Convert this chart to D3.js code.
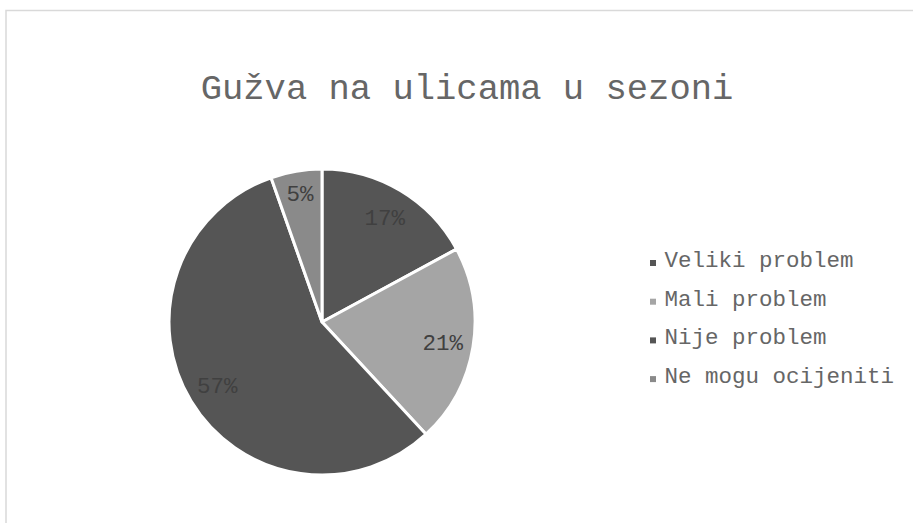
<!DOCTYPE html>
<html>
<head>
<meta charset="utf-8">
<script src="https://cdn.jsdelivr.net/npm/d3@7"></script>
<style>
  html, body { margin: 0; padding: 0; background: #fff; }
  text { font-family: "Liberation Mono", "Courier New", monospace; }
</style>
</head>
<body>
<div id="chart"></div>
<script>
// Data
const TITLE = 'Gužva na ulicama u sezoni';
const categories = ['Veliki problem', 'Mali problem', 'Nije problem', 'Ne mogu ocijeniti'];
const values = [17.1, 21.0, 56.5, 5.4];
const labels = ['17%', '21%', '57%', '5%'];
const colors = ['#555555', '#a5a5a5', '#555555', '#8a8a8a'];

const WIDTH = 913;
const HEIGHT = 523;
const CENTER = { x: 322, y: 322 };
const RADIUS = 153;

const svg = d3.select('#chart').append('svg')
    .attr('width', WIDTH)
    .attr('height', HEIGHT);

svg.append('rect')
    .attr('width', WIDTH).attr('height', HEIGHT)
    .attr('fill', '#fff');

// chart area border (runs off the right and bottom edge)
svg.append('rect')
    .attr('x', 6).attr('y', 10.5)
    .attr('width', 1000).attr('height', 1000)
    .attr('fill', 'none')
    .attr('stroke', '#d9d9d9')
    .attr('stroke-width', 1.5);

// Title
svg.append('text')
    .attr('x', 467)
    .attr('y', 99)
    .attr('text-anchor', 'middle')
    .attr('fill', '#666')
    .style('font-size', '35.5px')
    .text(TITLE);

// Pie
const data = categories.map((c, i) => ({ name: c, value: values[i], label: labels[i], color: colors[i] }));

const pie = d3.pie()
    .sort(null)
    .value(d => d.value);

const arc = d3.arc()
    .innerRadius(0)
    .outerRadius(RADIUS);

const labelArc = d3.arc()
    .innerRadius(RADIUS * 0.8)
    .outerRadius(RADIUS * 0.8);

const g = svg.append('g')
    .attr('transform', `translate(${CENTER.x},${CENTER.y})`);

const arcs = pie(data);

g.selectAll('path')
    .data(arcs)
    .enter().append('path')
    .attr('d', arc)
    .attr('fill', d => d.data.color)
    .attr('stroke', '#fff')
    .attr('stroke-width', 3)
    .attr('stroke-linejoin', 'round');

g.selectAll('text.label')
    .data(arcs)
    .enter().append('text')
    .attr('class', 'label')
    .attr('transform', d => {
        const [x, y] = labelArc.centroid(d);
        // small slice label sits a bit further out
        const k = d.data.value < 8 ? 1.07 : 1;
        return `translate(${x * k},${y * k})`;
    })
    .attr('text-anchor', 'middle')
    .attr('dy', '0.35em')
    .attr('fill', '#404040')
    .style('font-size', '22.5px')
    .text(d => d.data.label);

// Legend
const legend = svg.append('g')
    .attr('transform', 'translate(650, 267)');

const items = legend.selectAll('g')
    .data(data)
    .enter().append('g')
    .attr('transform', (d, i) => `translate(0, ${i * 38.7})`);

items.append('rect')
    .attr('x', 0)
    .attr('y', -7)
    .attr('width', 6)
    .attr('height', 6)
    .attr('fill', d => d.color);

items.append('text')
    .attr('x', 14.5)
    .attr('y', 0)
    .attr('fill', '#666')
    .style('font-size', '22.5px')
    .text(d => d.name);
</script>
</body>
</html>
